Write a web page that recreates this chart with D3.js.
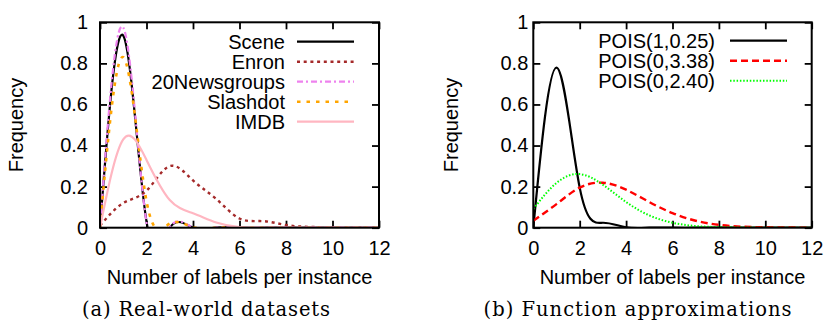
<!DOCTYPE html>
<html>
<head>
<meta charset="utf-8">
<script src="https://cdn.jsdelivr.net/npm/d3@7"></script>
<style>
  body { margin: 0; background: #fff; }
  svg { display: block; }
</style>
</head>
<body>
<svg id="chart" width="827" height="325"></svg>
<script>
// number of labels per instance (x positions of the points)
const labelCounts = [0, 1, 2, 3, 4, 5, 6, 7, 8, 9, 10, 11, 12];
const xTicks = [0, 2, 4, 6, 8, 10, 12];
const yTicks = [0, 0.2, 0.4, 0.6, 0.8, 1];

// (a) real-world datasets, frequency per label count
const scene    = [0, 0.935, 0.03, 0, 0, 0, 0, 0, 0, 0, 0, 0, 0];
const enron    = [0.01, 0.12, 0.18, 0.30, 0.23, 0.14, 0.045, 0.032, 0.013, 0.004, 0.001, 0, 0];
const news20   = [0, 0.975, 0.025, 0.002, 0, 0, 0, 0, 0, 0, 0, 0, 0];
const slashdot = [0, 0.83, 0.13, 0.02, 0.003, 0, 0, 0, 0, 0, 0, 0, 0];
const imdb     = [0, 0.43, 0.33, 0.135, 0.07, 0.025, 0.003, 0, 0, 0, 0, 0, 0];

// (b) function approximations
const pois1_025 = [0, 0.779, 0.195, 0.024, 0.002, 0, 0, 0, 0, 0, 0, 0, 0];
const pois0_338 = [0.034, 0.115, 0.195, 0.219, 0.185, 0.125, 0.071, 0.034, 0.014, 0.005, 0.002, 0.001, 0];
const pois0_240 = [0.091, 0.218, 0.261, 0.209, 0.125, 0.060, 0.024, 0.008, 0.003, 0.001, 0, 0, 0];

const sansFont = '"Liberation Sans", Arial, sans-serif';

const svg = d3.select('#chart');

const panels = [
  {
    id: 'a',
    left: 100, right: 379, top: 22.3, bottom: 227.7,
    yPad: 12,
    yTitleX: 22.5,
    legendTextX: 285, legendLine: [297, 354], legendY: 41.7,
    caption: '(a) Real-world datasets', captionX: 206, captionLen: 248,
    series: [
      { name: 'Scene', values: scene, color: '#000000', width: 2.2, dash: null },
      { name: 'Enron', values: enron, color: '#a52a2a', width: 2.4, dash: '3,3.7' },
      { name: '20Newsgroups', values: news20, color: '#ee82ee', width: 2.2, dash: '6,3,2,3' },
      { name: 'Slashdot', values: slashdot, color: '#ffa500', width: 2.6, dash: '3.5,6' },
      { name: 'IMDB', values: imdb, color: '#ffb6c1', width: 2.2, dash: null }
    ]
  },
  {
    id: 'b',
    left: 533.3, right: 811.7, top: 22.3, bottom: 227.7,
    yPad: 5,
    yTitleX: 458,
    legendTextX: 715, legendLine: [730, 787], legendY: 40.7,
    caption: '(b) Function approximations', captionX: 637.5, captionLen: 308,
    series: [
      { name: 'POIS(1,0.25)', values: pois1_025, color: '#000000', width: 2.2, dash: null },
      { name: 'POIS(0,3.38)', values: pois0_338, color: '#ff0000', width: 2.4, dash: '7,4' },
      { name: 'POIS(0,2.40)', values: pois0_240, color: '#00ff00', width: 2.0, dash: '1.5,1.8' }
    ]
  }
];

panels.forEach(p => drawPanel(p));

function drawPanel(p) {
  const x = d3.scaleLinear().domain([0, 12]).range([p.left, p.right]);
  const y = d3.scaleLinear().domain([0, 1]).range([p.bottom, p.top]);

  const g = svg.append('g').attr('class', 'panel-' + p.id);

  g.append('clipPath')
    .attr('id', 'clip-' + p.id)
    .append('rect')
    .attr('x', p.left).attr('y', p.top)
    .attr('width', p.right - p.left).attr('height', p.bottom - p.top);

  // ticks point inward on all four sides (gnuplot mirror)
  const styleAxis = sel => {
    sel.selectAll('.domain').remove();
    sel.selectAll('.tick line').attr('stroke', '#000').attr('stroke-width', 1.8);
    sel.selectAll('text').attr('font-family', sansFont).attr('font-size', 20).attr('fill', '#000');
  };

  g.append('g')
    .attr('transform', `translate(0,${p.bottom})`)
    .call(d3.axisBottom(x).tickValues(xTicks).tickSize(-7).tickSizeOuter(0).tickPadding(13).tickFormat(d3.format('d')))
    .call(styleAxis);

  g.append('g')
    .attr('transform', `translate(0,${p.top})`)
    .call(d3.axisTop(x).tickValues(xTicks).tickSize(-7).tickSizeOuter(0).tickFormat(''))
    .call(styleAxis);

  g.append('g')
    .attr('transform', `translate(${p.left},0)`)
    .call(d3.axisLeft(y).tickValues(yTicks).tickSize(-7).tickSizeOuter(0).tickPadding(p.yPad).tickFormat(d3.format('~g')))
    .call(styleAxis);

  g.append('g')
    .attr('transform', `translate(${p.right},0)`)
    .call(d3.axisRight(y).tickValues(yTicks).tickSize(-7).tickSizeOuter(0).tickFormat(''))
    .call(styleAxis);

  // curves (natural cubic spline like gnuplot csplines)
  const line = d3.line()
    .x(d => x(d.x))
    .y(d => y(d.y))
    .curve(d3.curveNatural);

  const curves = g.append('g').attr('clip-path', `url(#clip-${p.id})`);
  p.series.forEach(s => {
    const pts = labelCounts.map((c, i) => ({ x: c, y: s.values[i] }));
    curves.append('path')
      .datum(pts)
      .attr('d', line)
      .attr('fill', 'none')
      .attr('stroke', s.color)
      .attr('stroke-width', s.width)
      .attr('stroke-dasharray', s.dash)
      .attr('stroke-linejoin', 'round');
  });

  // frame
  g.append('rect')
    .attr('x', p.left).attr('y', p.top)
    .attr('width', p.right - p.left).attr('height', p.bottom - p.top)
    .attr('fill', 'none').attr('stroke', '#000').attr('stroke-width', 2);

  // legend
  const legend = g.append('g');
  p.series.forEach((s, i) => {
    const ly = p.legendY + i * 20;
    legend.append('text')
      .attr('x', p.legendTextX).attr('y', ly).attr('dy', '0.35em')
      .attr('text-anchor', 'end')
      .attr('font-family', sansFont).attr('font-size', 20)
      .text(s.name);
    legend.append('line')
      .attr('x1', p.legendLine[0]).attr('x2', p.legendLine[1])
      .attr('y1', ly).attr('y2', ly)
      .attr('stroke', s.color).attr('stroke-width', s.width)
      .attr('stroke-dasharray', s.dash);
  });

  // axis titles
  g.append('text')
    .attr('transform', `translate(${p.yTitleX},125) rotate(-90)`)
    .attr('text-anchor', 'middle')
    .attr('font-family', sansFont).attr('font-size', 20)
    .text('Frequency');

  g.append('text')
    .attr('x', (p.left + p.right) / 2).attr('y', 284)
    .attr('text-anchor', 'middle')
    .attr('font-family', sansFont).attr('font-size', 20)
    .text('Number of labels per instance');

  // caption
  g.append('text')
    .attr('x', p.captionX).attr('y', 316)
    .attr('text-anchor', 'middle')
    .attr('font-family', '"DejaVu Serif", serif').attr('font-size', 19.5)
    .attr('textLength', p.captionLen).attr('lengthAdjust', 'spacing')
    .text(p.caption);
}
</script>
</body>
</html>
